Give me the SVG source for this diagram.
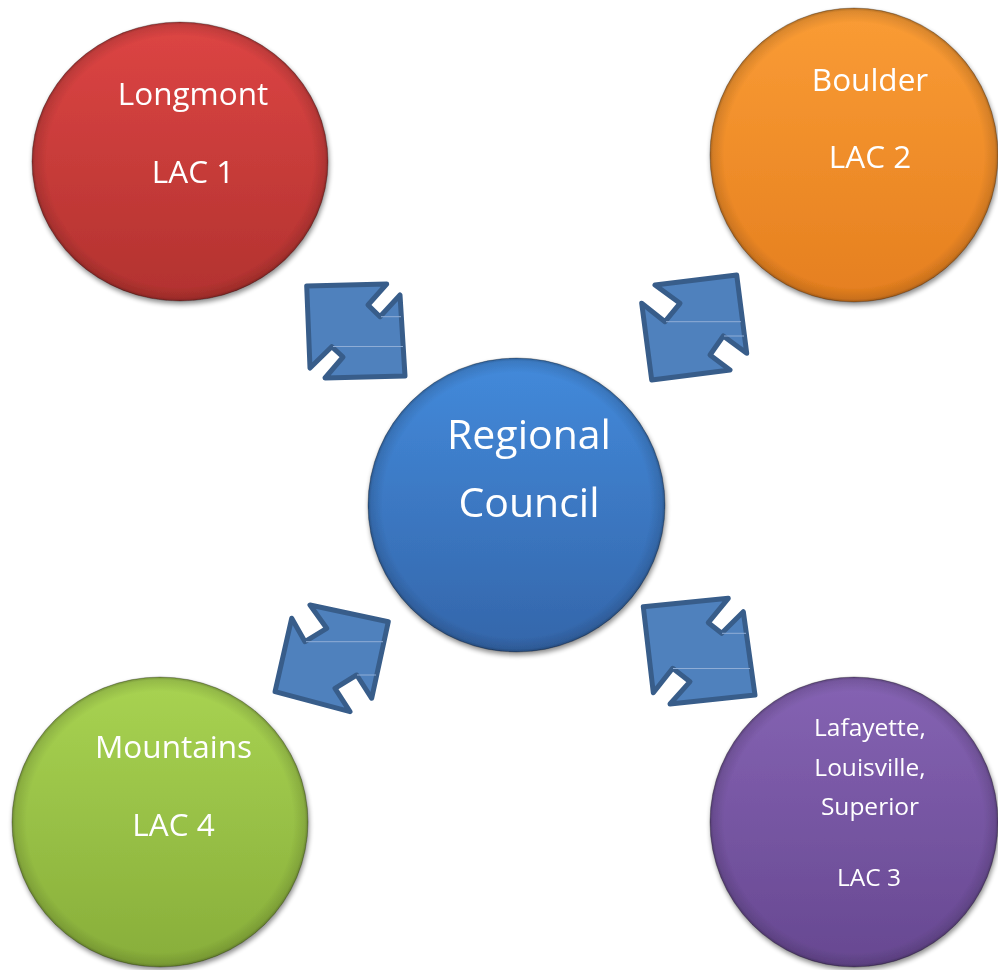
<svg xmlns="http://www.w3.org/2000/svg" width="998" height="970" viewBox="0 0 998 970">
  <defs>
    <style>
      .lbl { font-family: "Open Sans", "Liberation Sans", sans-serif; fill: #ffffff; text-anchor: middle; }
      .big { font-size: 31.5px; }
      .huge { font-size: 41px; }
      .small { font-size: 24.5px; }
      .arrow { fill: #4f81bd; stroke: #385d8a; stroke-width: 5; stroke-linejoin: round; }
      .hl { stroke: #8fadd6; stroke-width: 1; fill: none; }
      .rim { fill: url(#rim); }
      .edge { fill: none; stroke: #000; stroke-opacity: 0.35; stroke-width: 0.8; }
    </style>
    <linearGradient id="gRed" x1="0" y1="0" x2="0" y2="1">
      <stop offset="0" stop-color="#dd4544"/>
      <stop offset="1" stop-color="#b2322f"/>
    </linearGradient>
    <linearGradient id="gOrange" x1="0" y1="0" x2="0" y2="1">
      <stop offset="0" stop-color="#fa9c35"/>
      <stop offset="1" stop-color="#e57f1f"/>
    </linearGradient>
    <linearGradient id="gBlue" x1="0" y1="0" x2="0" y2="1">
      <stop offset="0" stop-color="#438adb"/>
      <stop offset="1" stop-color="#3466aa"/>
    </linearGradient>
    <linearGradient id="gGreen" x1="0" y1="0" x2="0" y2="1">
      <stop offset="0" stop-color="#a8d352"/>
      <stop offset="1" stop-color="#88ae3a"/>
    </linearGradient>
    <linearGradient id="gPurple" x1="0" y1="0" x2="0" y2="1">
      <stop offset="0" stop-color="#8563b3"/>
      <stop offset="1" stop-color="#674891"/>
    </linearGradient>
    <radialGradient id="rim" cx="0.5" cy="0.5" r="0.5">
      <stop offset="0.9" stop-color="#000" stop-opacity="0"/>
      <stop offset="0.98" stop-color="#000" stop-opacity="0.12"/>
      <stop offset="1" stop-color="#000" stop-opacity="0.3"/>
    </radialGradient>
    <filter id="shadow" x="-10%" y="-10%" width="120%" height="120%">
      <feGaussianBlur in="SourceAlpha" stdDeviation="2.5"/>
      <feOffset dx="1" dy="3" result="b"/>
      <feComponentTransfer><feFuncA type="linear" slope="0.45"/></feComponentTransfer>
      <feMerge><feMergeNode/><feMergeNode in="SourceGraphic"/></feMerge>
    </filter>
  </defs>
  <rect width="998" height="970" fill="#ffffff"/>

  <g id="connectors">
    <g id="arrow-longmont">
      <polygon class="arrow" points="306.7,286 386.7,284 368,305 380,316.7 400,295 405,376 325,378 343,357 331.7,346.7 310,368"/>
      <line class="hl" x1="381" y1="316.7" x2="401" y2="316.7"/>
      <line class="hl" x1="333" y1="346.5" x2="403" y2="346.5"/>
    </g>
    <g id="arrow-boulder">
      <polygon class="arrow" points="655,285 736.7,275 746.7,353.3 723.3,336 710,355 730,370 651.7,380 641.7,303.3 665,321.7 680,303.3"/>
      <line class="hl" x1="666" y1="321.7" x2="741" y2="321.7"/>
      <line class="hl" x1="724" y1="336" x2="744" y2="336"/>
    </g>
    <g id="arrow-mountains">
      <polygon class="arrow" points="310,605 388.3,621.7 371.7,698.3 356.7,675 335,688.3 350,711.7 275,691.7 291.7,618.3 305,641.7 326.7,628.3"/>
      <line class="hl" x1="306" y1="641.7" x2="383" y2="641.7"/>
      <line class="hl" x1="357" y1="675" x2="376" y2="675"/>
    </g>
    <g id="arrow-lac3">
      <polygon class="arrow" points="643.3,606.7 728.3,598.3 708.3,622.7 721.7,633.3 743.3,611.7 755,695 670,704 690,681.7 672.7,668.3 653.3,692.7"/>
      <line class="hl" x1="722" y1="633.3" x2="746" y2="633.3"/>
      <line class="hl" x1="673" y1="668.5" x2="750" y2="668.5"/>
    </g>
  </g>

  <g id="node-longmont" filter="url(#shadow)">
    <ellipse cx="180" cy="161.5" rx="148" ry="139.5" fill="url(#gRed)"/>
    <ellipse class="rim" cx="180" cy="161.5" rx="148" ry="139.5"/>
    <ellipse class="edge" cx="180" cy="161.5" rx="148" ry="139.5"/>
    <text class="lbl big" x="193" y="105">Longmont</text>
    <text class="lbl big" x="193" y="183">LAC 1</text>
  </g>

  <g id="node-boulder" filter="url(#shadow)">
    <ellipse cx="854" cy="155" rx="144" ry="147" fill="url(#gOrange)"/>
    <ellipse class="rim" cx="854" cy="155" rx="144" ry="147"/>
    <ellipse class="edge" cx="854" cy="155" rx="144" ry="147"/>
    <text class="lbl big" x="870" y="91">Boulder</text>
    <text class="lbl big" x="870" y="168">LAC 2</text>
  </g>

  <g id="node-regional" filter="url(#shadow)">
    <ellipse cx="516.5" cy="505" rx="148.5" ry="147" fill="url(#gBlue)"/>
    <ellipse class="rim" cx="516.5" cy="505" rx="148.5" ry="147"/>
    <ellipse class="edge" cx="516.5" cy="505" rx="148.5" ry="147"/>
    <text class="lbl huge" x="529" y="449">Regional</text>
    <text class="lbl huge" x="529" y="517">Council</text>
  </g>

  <g id="node-mountains" filter="url(#shadow)">
    <ellipse cx="160" cy="822" rx="148" ry="145" fill="url(#gGreen)"/>
    <ellipse class="rim" cx="160" cy="822" rx="148" ry="145"/>
    <ellipse class="edge" cx="160" cy="822" rx="148" ry="145"/>
    <text class="lbl big" x="173.5" y="758">Mountains</text>
    <text class="lbl big" x="173.5" y="836">LAC 4</text>
  </g>

  <g id="node-lac3" filter="url(#shadow)">
    <ellipse cx="854" cy="822" rx="144" ry="145" fill="url(#gPurple)"/>
    <ellipse class="rim" cx="854" cy="822" rx="144" ry="145"/>
    <ellipse class="edge" cx="854" cy="822" rx="144" ry="145"/>
    <text class="lbl small" x="870" y="736">Lafayette,</text>
    <text class="lbl small" x="870" y="776">Louisville,</text>
    <text class="lbl small" x="870" y="815">Superior</text>
    <text class="lbl small" x="869" y="886">LAC 3</text>
  </g>
</svg>
